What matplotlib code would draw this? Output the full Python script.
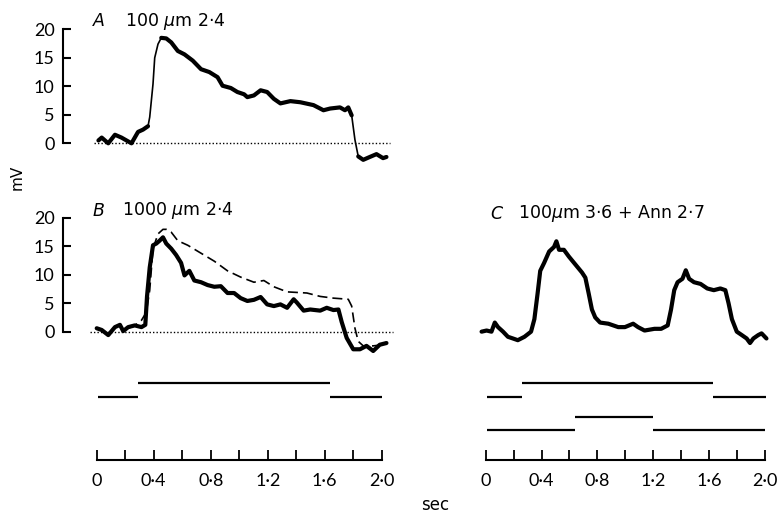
import numpy as np
import matplotlib
matplotlib.use("Agg")
import matplotlib.pyplot as plt
from matplotlib.ticker import FixedLocator, NullFormatter

plt.rcParams["font.family"] = ["Lato", "DejaVu Sans"]
plt.rcParams["mathtext.fontset"] = "dejavusans"

# ── Data ──────────────────────────────────────────────────────────────────────
# Panel A: 100 um, response (sec, mV)
a_t = [0.012, 0.035, 0.081, 0.128, 0.174, 0.244, 0.290, 0.325, 0.360, 0.372,
       0.395, 0.407, 0.430, 0.453, 0.488, 0.523, 0.569, 0.616, 0.674, 0.732,
       0.790, 0.848, 0.883, 0.941, 0.987, 1.034, 1.057, 1.103, 1.150, 1.196,
       1.243, 1.289, 1.359, 1.429, 1.521, 1.591, 1.638, 1.707, 1.742, 1.765,
       1.789, 1.812, 1.835, 1.870, 1.916, 1.963, 2.009, 2.033]
a_mv = [0.5, 1.0, 0.0, 1.5, 1.0, 0.0, 2.0, 2.4, 3.0, 4.6,
        10.4, 15.0, 17.4, 18.5, 18.4, 17.7, 16.2, 15.6, 14.5, 13.0,
        12.5, 11.6, 10.1, 9.7, 9.0, 8.6, 8.1, 8.4, 9.3, 9.0,
        7.8, 7.0, 7.4, 7.2, 6.7, 5.8, 6.1, 6.3, 5.8, 6.3,
        4.9, 0.6, -2.3, -2.9, -2.4, -1.9, -2.6, -2.4]

# Panel B: 1000 um, response (solid)
b_t = [0.000, 0.035, 0.081, 0.128, 0.163, 0.186, 0.221, 0.267, 0.314, 0.341,
       0.353, 0.372, 0.395, 0.418, 0.441, 0.465, 0.488, 0.523, 0.557, 0.592,
       0.616, 0.650, 0.685, 0.732, 0.778, 0.825, 0.871, 0.918, 0.964, 1.010,
       1.057, 1.103, 1.150, 1.196, 1.243, 1.289, 1.336, 1.382, 1.405, 1.452,
       1.498, 1.568, 1.614, 1.661, 1.696, 1.719, 1.754, 1.800, 1.847, 1.893,
       1.940, 1.986, 2.033]
b_mv = [0.6, 0.3, -0.6, 0.8, 1.2, 0.1, 0.8, 1.1, 0.8, 1.2,
        6.2, 11.3, 15.2, 15.5, 16.0, 16.6, 15.5, 14.6, 13.5, 12.1,
        9.9, 10.7, 9.0, 8.7, 8.2, 7.9, 8.0, 6.8, 6.8, 5.9,
        5.4, 5.6, 6.1, 4.8, 4.5, 4.8, 4.2, 5.7, 5.1, 3.7,
        3.9, 3.7, 4.2, 3.8, 3.9, 1.7, -1.1, -3.1, -3.1, -2.5,
        -3.4, -2.3, -2.0]

# Panel B: 100 um response redrawn for comparison (dashed)
bd_t = [0.221, 0.267, 0.314, 0.348, 0.372, 0.395, 0.430, 0.465, 0.488, 0.523,
        0.569, 0.639, 0.732, 0.825, 0.918, 1.010, 1.103, 1.173, 1.243, 1.336,
        1.475, 1.568, 1.661, 1.765, 1.789, 1.812, 1.835, 1.870, 1.940, 2.009]
bd_mv = [0.6, 1.1, 2.0, 3.4, 7.3, 14.6, 17.2, 18.0, 18.0, 17.5,
         16.0, 15.2, 13.8, 12.4, 10.7, 9.6, 8.7, 9.0, 7.9, 7.0,
         6.8, 6.2, 5.9, 5.7, 4.5, 0.6, -1.7, -2.5, -2.5, -2.3]

# Panel C: 100 um 3.6 + Ann 2.7
c_t = [-0.031, 0.005, 0.040, 0.064, 0.087, 0.123, 0.158, 0.194, 0.229, 0.277,
       0.324, 0.348, 0.371, 0.390, 0.418, 0.454, 0.489, 0.506, 0.525, 0.560,
       0.596, 0.643, 0.690, 0.714, 0.738, 0.761, 0.785, 0.820, 0.879, 0.950,
       0.998, 1.057, 1.092, 1.139, 1.210, 1.258, 1.305, 1.329, 1.352, 1.376,
       1.411, 1.435, 1.459, 1.494, 1.541, 1.589, 1.636, 1.683, 1.719, 1.742,
       1.766, 1.801, 1.837, 1.872, 1.896, 1.920, 1.955, 1.979, 2.014]
c_mv = [0.0, 0.2, 0.0, 1.6, 0.8, 0.0, -0.9, -1.2, -1.5, -0.9,
        0.0, 2.2, 6.7, 10.7, 12.1, 14.1, 14.9, 15.9, 14.4, 14.4,
        13.2, 11.8, 10.4, 9.5, 6.7, 3.9, 2.5, 1.6, 1.4, 0.8,
        0.8, 1.4, 0.8, 0.2, 0.5, 0.5, 1.1, 3.9, 7.3, 8.7,
        9.3, 10.8, 9.3, 8.7, 8.4, 7.6, 7.3, 7.6, 7.3, 5.0,
        2.2, 0.0, -0.6, -1.2, -2.0, -1.2, -0.6, -0.3, -1.2]

# Stimulus markers: (start sec, end sec, row)
stim_left = [(0.01, 0.29, 1), (0.29, 1.64, 0), (1.64, 2.00, 1)]
stim_right = [(0.005, 0.26, 1), (0.26, 1.63, 0), (1.63, 2.01, 1),
              (0.005, 0.64, 3.5), (0.64, 1.20, 2.5), (1.20, 2.00, 3.5)]

mv_ticks = [0, 5, 10, 15, 20]
time_major = [0, 0.4, 0.8, 1.2, 1.6, 2.0]
time_minor = [0.2, 0.6, 1.0, 1.4, 1.8]
time_labels = ["0", "0·4", "0·8", "1·2", "1·6", "2·0"]

# ── Layout helpers ─────────────────────────────────────────────────────────────
W, H = 783, 513
fig = plt.figure(figsize=(W / 100, H / 100), dpi=100)


def px_axes(left, top, right, bottom):
    return fig.add_axes([left / W, 1 - bottom / H, (right - left) / W, (bottom - top) / H])


def px_text(x, y, s, **kw):
    fig.text(x / W, 1 - y / H, s, **kw)


LEFT_XLIM = (-0.2365, 2.100)
RIGHT_XLIM = (-0.0639, 2.1328)
MV_LIM = (-4, 21)
THICK = 3.0


def trace_axes(ax, with_scale):
    ax.set_xlim(*LEFT_XLIM if with_scale else RIGHT_XLIM)
    ax.set_ylim(*MV_LIM)
    for s in ("top", "right", "bottom"):
        ax.spines[s].set_visible(False)
    ax.set_xticks([])
    if with_scale:
        ax.spines["left"].set_bounds(0, 20)
        ax.spines["left"].set_linewidth(1.5)
        ax.set_yticks(mv_ticks)
        ax.tick_params(axis="y", direction="in", length=6, width=1.5,
                       pad=6, labelsize=13)
    else:
        ax.spines["left"].set_visible(False)
        ax.set_yticks([])
    ax.patch.set_alpha(0)


def plot_trace(ax, t, mv, thin_windows=()):
    t = np.asarray(t)
    mv = np.asarray(mv)
    mask = np.zeros(len(t), bool)
    for w0, w1 in thin_windows:
        mask |= (t > w0) & (t < w1)
    ax.plot(t, mv, color="black", lw=1.2, solid_capstyle="round")
    ax.plot(t, np.ma.masked_where(mask, mv), color="black", lw=THICK,
            solid_joinstyle="round", solid_capstyle="round")


def stim_axes(ax, bars, xlim):
    ax.set_xlim(*xlim)
    ax.set_ylim(5.70, -0.963)
    for s in ("top", "right", "left"):
        ax.spines[s].set_visible(False)
    ax.spines["bottom"].set_bounds(0, 2.0)
    ax.spines["bottom"].set_linewidth(1.5)
    ax.set_yticks([])
    ax.xaxis.set_major_locator(FixedLocator(time_major))
    ax.xaxis.set_minor_locator(FixedLocator(time_minor))
    ax.set_xticklabels(time_labels)
    ax.xaxis.set_minor_formatter(NullFormatter())
    ax.tick_params(axis="x", which="both", direction="in", length=7,
                   width=1.3, pad=9, labelsize=13)
    for t0, t1, row in bars:
        ax.plot([t0, t1], [row, row], color="black", lw=1.6, solid_capstyle="butt")
    ax.patch.set_alpha(0)


# ── Panel A ───────────────────────────────────────────────────────────────────
ax_a = px_axes(63, 23.6, 396, 166.1)
trace_axes(ax_a, True)
ax_a.plot([-0.02, 2.06], [0, 0], color="black", lw=1.0, ls=(0, (1, 1.5)))
plot_trace(ax_a, a_t, a_mv, thin_windows=[(0.36, 0.45), (1.79, 1.835)])

# ── Panel B ───────────────────────────────────────────────────────────────────
ax_b = px_axes(63, 212.3, 396, 354.4)
trace_axes(ax_b, True)
ax_b.plot([-0.05, 2.08], [0, 0], color="black", lw=1.0, ls=(0, (1, 1.5)))
ax_b.plot(bd_t, bd_mv, color="black", lw=1.2, dashes=(6, 3))
plot_trace(ax_b, b_t, b_mv)

# ── Panel C ───────────────────────────────────────────────────────────────────
ax_c = px_axes(477, 212.3, 783, 354.4)
trace_axes(ax_c, False)
plot_trace(ax_c, c_t, c_mv)

# ── Stimulus markers and time scales ──────────────────────────────────────────
ax_sl = px_axes(63, 370, 396, 460)
stim_axes(ax_sl, stim_left, LEFT_XLIM)
ax_sr = px_axes(477, 370, 783, 460)
stim_axes(ax_sr, stim_right, RIGHT_XLIM)

# ── Labels ────────────────────────────────────────────────────────────────────
lab = dict(fontsize=12.5, va="center", ha="left", family="DejaVu Sans")
px_text(93, 21, "A", style="italic", **lab)
px_text(125, 21, "100 $\\mu$m 2·4", **lab)
px_text(93, 211, "B", style="italic", **lab)
px_text(122, 211, "1000 $\\mu$m 2·4", **lab)
px_text(490, 214, "C", style="italic", **lab)
px_text(518, 214, "100$\\mu$m 3·6 + Ann 2·7", **lab)
px_text(17, 177, "mV", rotation=90, fontsize=11, ha="center", va="center",
        family="DejaVu Sans")
px_text(435, 505, "sec", fontsize=12, ha="center", va="center",
        family="DejaVu Sans")

fig.savefig("out.png", dpi=100)
